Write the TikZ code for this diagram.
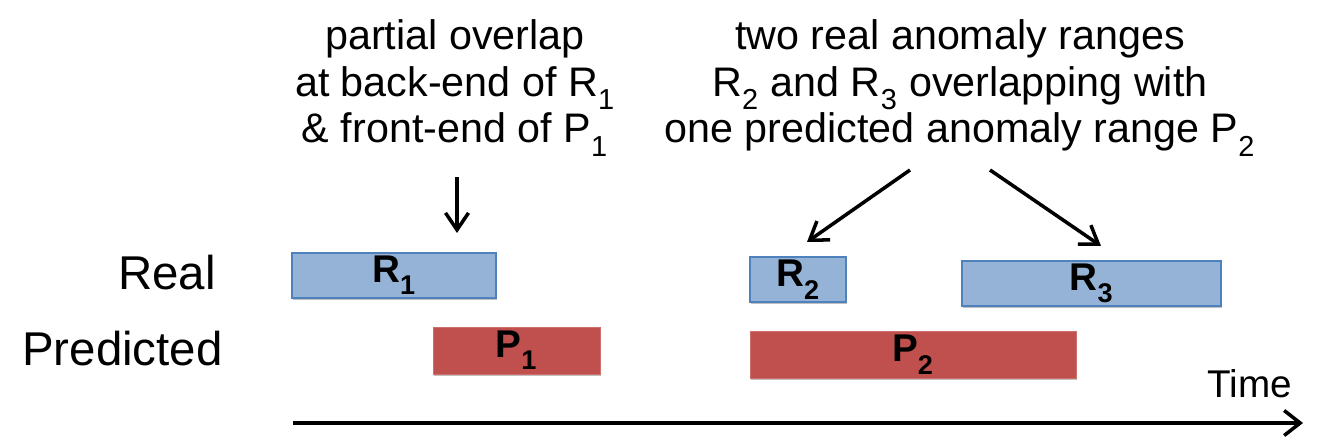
\documentclass[tikz,border=0pt]{standalone}
\usepackage{fontspec}
\setmainfont{Liberation Sans}
\usepackage{xcolor}
\usetikzlibrary{arrows.meta, positioning, shadows}

\definecolor{realfill}{HTML}{95B3D7}
\definecolor{realline}{HTML}{4F81BD}
\definecolor{predfill}{HTML}{C0504D}
\definecolor{predline}{HTML}{D0706D}

% lowered subscript index
\newcommand{\idx}[1]{\raisebox{-0.3ex}{\textsubscript{#1}}}

\begin{document}
\begin{tikzpicture}[
    x=0.02cm, y=-0.02cm,
    every node/.style={font=\fontsize{23.5}{26.5}\selectfont},
    barshadow/.style={drop shadow={shadow xshift=0.4pt, shadow yshift=-1pt, opacity=0.25, fill=black}},
    realbar/.style={rectangle, draw=realline, fill=realfill, line width=0.8pt, inner sep=0pt, barshadow, font=\fontsize{22}{22}\selectfont\bfseries},
    predbar/.style={rectangle, draw=predline, fill=predfill, line width=0.5pt, inner sep=0pt, barshadow, font=\fontsize{22}{22}\selectfont\bfseries},
    note/.style={align=center, inner sep=0pt},
    rowlabel/.style={anchor=east, inner sep=0pt, font=\fontsize{27}{27}\selectfont},
    pointer/.style={-{Straight Barb[length=3.4mm, width=4.6mm, line width=2pt]}, line width=2pt},
    timeline/.style={-{Straight Barb[length=3.2mm, width=5mm]}, line width=2pt},
]
\useasboundingbox (0,0) rectangle (1324,448);

% Row labels
\node[rowlabel] (real) at (216,273) {Real};
\node[rowlabel] (pred) at (223,349) {Predicted};

% Real anomaly ranges
\node[realbar, minimum width=4.08cm, minimum height=0.9cm] (R1) at (394,275.5) {R\idx{1}};
\node[realbar, minimum width=1.92cm, minimum height=0.9cm] (R2) at (798,279.5) {R\idx{2}};
\node[realbar, minimum width=5.18cm, minimum height=0.9cm] (R3) at (1091.5,283.5) {R\idx{3}};

% Predicted anomaly ranges
\node[predbar, minimum width=3.34cm, minimum height=0.94cm] (P1) at (516.5,350.5) {P\idx{1}};
\node[predbar, minimum width=6.52cm, minimum height=0.94cm] (P2) at (913,354.5) {P\idx{2}};

% Notes
\node[note] (note1) at (455,88) {partial overlap\\at back-end of R\idx{1}\\\& front-end of P\idx{1}};
\node[note] (note2) at (960,88) {two real anomaly ranges\\R\idx{2} and R\idx{3} overlapping with\\one predicted anomaly range P\idx{2}};

% Arrow ends
\coordinate (from1) at (457,177);
\coordinate (tip1) at (457,233);
\coordinate (from2) at (910,170);
\coordinate (tip2) at (807,242);
\coordinate (from3) at (990,170);
\coordinate (tip3) at (1101,246);

\draw[pointer] (from1) -- (tip1);
\draw[pointer] (from2) -- (tip2);
\draw[pointer] (from3) -- (tip3);

% Time axis
\coordinate (t0) at (293,423);
\coordinate (t1) at (1303,423);
\draw[timeline] (t0) -- (t1);
\node[inner sep=0pt, font=\fontsize{22}{22}\selectfont] (time) at (1250,384) {Time};

\end{tikzpicture}
\end{document}
